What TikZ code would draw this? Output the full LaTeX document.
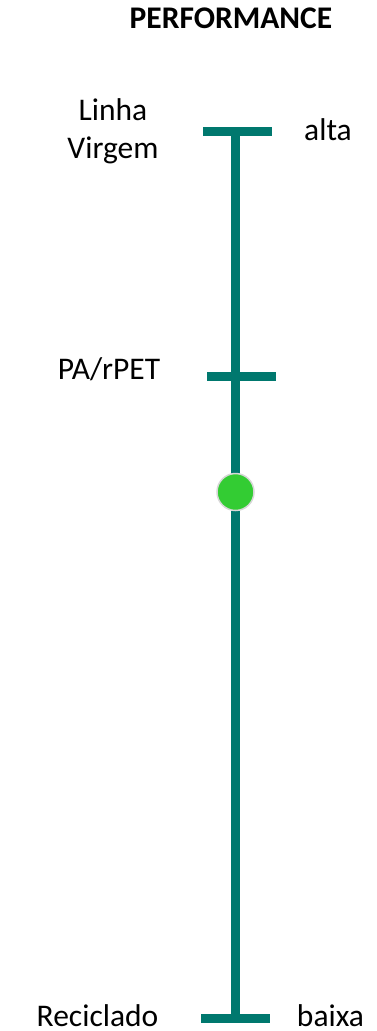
\documentclass[tikz,border=0pt]{standalone}
\usepackage{fontspec}
\setmainfont{Carlito}
\definecolor{barteal}{RGB}{0,120,110}
\definecolor{dotgreen}{RGB}{51,204,51}
\definecolor{dotedge}{RGB}{215,215,215}
\begin{document}
\begin{tikzpicture}[x=1pt,y=-1pt,
  bar/.style={draw=barteal,line width=9pt},
  lbl/.style={font=\fontsize{31.5}{38}\selectfont,inner sep=0pt,anchor=base},
  dot/.style={circle,fill=dotgreen,draw=dotedge,line width=1.5pt,minimum size=37pt,inner sep=0pt}]
\useasboundingbox (0,0) rectangle (376,1031);
\coordinate (top) at (235.5,131);
\coordinate (mid) at (235.5,376.5);
\coordinate (bot) at (235.5,1018.5);
\coordinate (tl) at (203,131);
\coordinate (tr) at (272,131);
\coordinate (ml) at (207,376.5);
\coordinate (mr) at (276,376.5);
\coordinate (bl) at (201,1018.5);
\coordinate (br) at (270,1018.5);
\draw[bar] (top) -- (bot);
\draw[bar] (tl) -- (tr);
\draw[bar] (ml) -- (mr);
\draw[bar] (bl) -- (br);
\node[dot] (d) at (235.5,492) {};
\node[lbl,font=\fontsize{31.5}{38}\selectfont\bfseries] (title) at (231,28) {PERFORMANCE};
\node[lbl] (linha) at (113,120) {Linha};
\node[lbl] (virgem) at (113,158) {Virgem};
\node[lbl] (alta) at (328,140) {alta};
\node[lbl] (pa) at (109,379) {PA/rPET};
\node[lbl,text depth=0pt] (rec) at (97.5,1026) {Reciclado};
\node[lbl,text depth=0pt] (baixa) at (330.5,1026) {baixa};
\end{tikzpicture}
\end{document}
